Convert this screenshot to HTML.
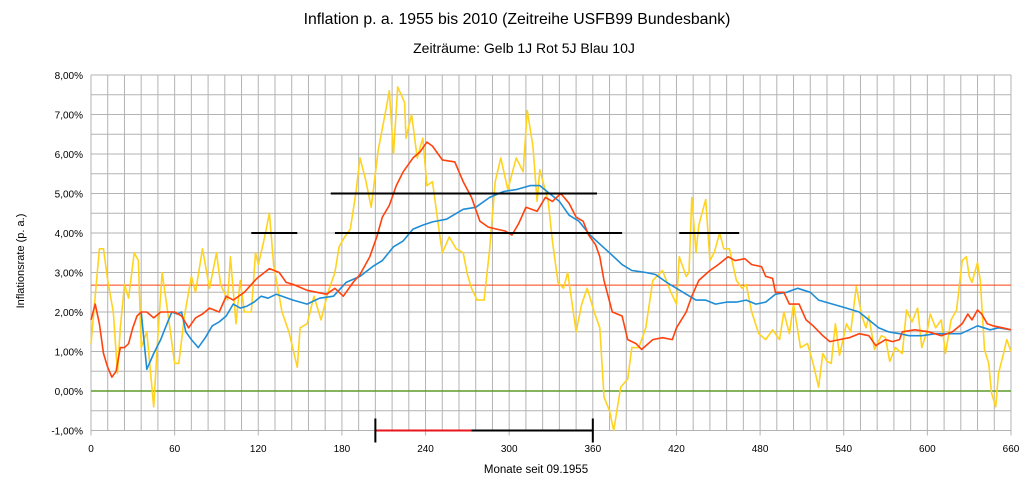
<!DOCTYPE html>
<html><head><meta charset="utf-8">
<style>
html,body{margin:0;padding:0;background:#fff;}
svg{display:block;font-family:"Liberation Sans",sans-serif;}
</style></head>
<body>
<svg id="chart" width="1035" height="484" viewBox="0 0 1035 484" xmlns="http://www.w3.org/2000/svg">
<text x="517" y="24" font-size="15.8" text-anchor="middle" fill="#000">Inflation p. a.  1955 bis 2010 (Zeitreihe USFB99 Bundesbank)</text>
<text x="524" y="53" font-size="14" text-anchor="middle" fill="#000">Zeiträume: Gelb 1J Rot 5J Blau 10J</text>
<text x="536" y="473" font-size="11.5" text-anchor="middle" fill="#000">Monate seit 09.1955</text>
<text x="0" y="0" font-size="11" text-anchor="middle" fill="#000" transform="translate(24,261) rotate(-90)">Inflationsrate (p. a.)</text>
<g id="grid"></g>
<g id="series"></g>
<g id="marks"></g>
<g id="ticks"></g>
</svg>
<script>
const xTicks = [0,60,120,180,240,300,360,420,480,540,600,660];
const yTicks = [-1,0,1,2,3,4,5,6,7,8];
const yTickLabels = ["-1,00%","0,00%","1,00%","2,00%","3,00%","4,00%","5,00%","6,00%","7,00%","8,00%"];
const refLevel = 2.68;

const yellowMonths = [0,3,6,9,12,16,19,21,24,27,31,34,36,40,45,48,51,55,60,63,67,72,75,80,85,90,93,98,100,104,107,110,115,118,120,124,128,131,137,142,148,150,155,160,165,170,175,178,182,186,190,193,197,201,206,212,214,217,220,225,226,230,234,238,241,245,249,252,257,262,267,270,273,277,282,286,290,294,299,305,310,313,317,320,322,328,331,335,339,342,348,352,356,361,365,368,372,375,380,385,388,393,398,403,410,416,420,422,427,429,431,434,436,441,444,447,451,454,458,463,467,470,474,479,484,489,494,497,501,504,509,514,518,522,525,528,531,534,537,542,545,549,553,556,558,562,567,570,573,577,582,585,589,593,596,600,602,606,610,613,617,621,625,628,630,632,636,638,641,644,646,649,651,654,657,660];
const yellowVals = [1.2,2.4,3.6,3.6,2.8,2.0,0.45,1.6,2.7,2.35,3.5,3.3,1.1,1.5,-0.4,1.4,3.0,2.0,0.7,0.7,1.9,2.9,2.5,3.6,2.6,3.5,2.7,2.3,3.4,1.7,2.8,2.0,2.0,3.5,3.2,3.8,4.5,3.2,2.0,1.5,0.6,1.6,1.7,2.4,1.8,2.5,3.0,3.65,3.9,4.1,5.0,5.9,5.35,4.65,6.1,7.2,7.6,6.0,7.7,7.3,6.4,7.0,5.9,6.4,5.2,5.3,4.25,3.5,3.9,3.6,3.5,2.95,2.6,2.3,2.3,3.6,5.3,5.9,5.1,5.9,5.55,7.1,6.2,4.8,5.6,4.8,3.8,2.75,2.6,3.0,1.5,2.2,2.6,2.0,1.6,-0.15,-0.5,-1.0,0.1,0.3,1.1,1.1,1.6,2.8,3.05,2.5,2.2,3.4,2.9,3.0,4.9,3.5,4.2,4.85,3.3,3.5,4.0,3.6,3.6,2.8,2.6,2.7,2.0,1.45,1.3,1.55,1.3,2.0,1.45,2.2,1.1,1.2,0.7,0.1,0.95,0.75,0.7,1.7,0.9,1.7,1.5,2.65,1.9,1.6,1.9,1.05,1.4,1.35,0.75,1.1,0.95,2.05,1.75,2.1,1.1,1.55,1.95,1.6,1.8,0.95,1.8,2.05,3.3,3.4,2.9,2.75,3.25,2.8,1.05,0.7,-0.05,-0.4,0.45,0.85,1.3,1.0];

const redMonths = [0,3,6,9,12,15,18,21,24,27,30,33,36,40,45,50,55,60,65,70,75,80,85,92,97,102,110,119,128,135,140,145,155,162,169,175,181,188,193,200,205,209,214,219,224,231,236,241,245,252,261,267,273,279,285,291,297,302,307,312,320,326,331,337,343,348,353,357,362,365,368,374,381,385,391,395,403,410,417,420,427,431,436,444,450,457,462,469,474,481,484,489,491,497,501,508,513,518,525,530,537,544,551,558,563,570,575,580,582,591,601,610,618,625,629,632,636,639,643,647,654,660];
const redVals = [1.8,2.2,1.7,0.95,0.6,0.35,0.5,1.1,1.1,1.2,1.6,1.9,2.0,2.0,1.85,2.0,2.0,2.0,1.9,1.6,1.85,1.95,2.1,2.0,2.4,2.3,2.5,2.85,3.1,3.0,2.75,2.7,2.55,2.5,2.45,2.6,2.4,2.75,2.95,3.4,3.9,4.4,4.7,5.2,5.55,5.9,6.05,6.3,6.2,5.85,5.8,5.3,4.9,4.3,4.15,4.1,4.05,3.95,4.25,4.65,4.55,4.9,4.8,5.0,4.75,4.4,4.3,3.95,3.7,3.4,2.8,2.0,1.9,1.3,1.2,1.05,1.3,1.35,1.3,1.6,2.0,2.4,2.8,3.05,3.2,3.4,3.3,3.35,3.2,3.15,2.9,2.85,2.5,2.5,2.2,2.2,1.8,1.65,1.4,1.25,1.3,1.35,1.45,1.4,1.15,1.3,1.25,1.3,1.5,1.55,1.5,1.4,1.5,1.7,1.95,1.8,2.05,1.95,1.7,1.65,1.6,1.55];

const blueMonths = [36,40,45,50,55,58,62,65,68,72,77,82,87,92,97,102,107,112,117,122,127,133,145,155,164,174,183,193,202,209,217,224,231,238,245,255,267,276,286,296,305,315,322,329,336,343,350,358,365,372,381,388,398,405,413,420,427,434,441,448,456,463,470,477,484,491,499,507,516,522,532,542,551,558,565,572,580,587,596,606,616,624,630,636,645,651,660];
const blueVals = [2.0,0.55,0.95,1.3,1.75,2.0,1.95,2.0,1.5,1.3,1.1,1.35,1.65,1.75,1.9,2.2,2.1,2.15,2.25,2.4,2.35,2.45,2.3,2.2,2.35,2.4,2.75,2.9,3.15,3.3,3.65,3.8,4.1,4.2,4.28,4.35,4.6,4.65,4.9,5.05,5.1,5.2,5.2,5.0,4.8,4.45,4.3,3.95,3.72,3.5,3.2,3.05,3.0,2.95,2.75,2.6,2.45,2.3,2.3,2.2,2.25,2.25,2.3,2.2,2.25,2.45,2.5,2.6,2.5,2.3,2.2,2.1,2.0,1.8,1.6,1.5,1.45,1.4,1.4,1.45,1.45,1.45,1.55,1.65,1.55,1.6,1.55];

const segLevels = [4,5,4,4];
const segStarts = [115,172,175,422];
const segEnds = [148,363,381,465];
const spanStart = 204, spanRedEnd = 273, spanEnd = 360;

const X0 = 91, X1 = 1011, YTOP = 75, YBOT = 430.5;
const xMin = 0, xMax = 660, yMin = -1, yMax = 8;
function xs(m){ return X0 + (m - xMin) / (xMax - xMin) * (X1 - X0); }
function ys(v){ return YBOT - (v - yMin) / (yMax - yMin) * (YBOT - YTOP); }

const NS = "http://www.w3.org/2000/svg";
function mk(tag, attrs, parent){
  const e = document.createElementNS(NS, tag);
  for (const k in attrs) e.setAttribute(k, attrs[k]);
  parent.appendChild(e);
  return e;
}
const grid = document.getElementById('grid');
const series = document.getElementById('series');
const marks = document.getElementById('marks');
const ticks = document.getElementById('ticks');

for (let m = 0; m <= 660; m += 12) {
  const l = mk('line', {x1: xs(m), x2: xs(m), y1: YTOP, y2: YBOT, stroke: '#b3b3b3', 'stroke-width': 1}, grid);
  
  
}
for (let v = -1; v <= 8.001; v += 0.5) {
  const l = mk('line', {x1: X0, x2: X1, y1: ys(v), y2: ys(v), stroke: '#b3b3b3', 'stroke-width': 1}, grid);
  
  
}
xTicks.forEach(m => {
  const l = mk('line', {x1: xs(m), x2: xs(m), y1: YBOT, y2: YBOT + 5, stroke: '#b3b3b3'}, grid);
  
  
  const t = mk('text', {x: xs(m), y: 452, 'font-size': 10, 'text-anchor': 'middle', fill: '#000'}, ticks);
  t.textContent = String(m);
  
  
});
yTicks.forEach((v, i) => {
  const t = mk('text', {x: 83, y: ys(v) + 4, 'font-size': 10, 'text-anchor': 'end', fill: '#000'}, ticks);
  t.textContent = yTickLabels[i];
  
  
});

const zeroLine = mk('line', {x1: X0, x2: X1, y1: ys(0), y2: ys(0), stroke: '#5f9a2a', 'stroke-width': 1.5}, series);


const refLine = mk('line', {x1: X0, x2: X1, y1: ys(refLevel), y2: ys(refLevel), stroke: '#ff420e', 'stroke-width': 1}, series);



function drawSeries(months, vals, color, name){
  const pts = months.map((m, i) => xs(m).toFixed(1) + ',' + ys(vals[i]).toFixed(1)).join(' ');
  const p = mk('polyline', {points: pts, fill: 'none', stroke: color, 'stroke-width': 1.6, 'stroke-linejoin': 'round'}, series);
  
  
}
drawSeries(yellowMonths, yellowVals, '#ffd320', 'series-1-year-yellow');
drawSeries(blueMonths, blueVals, '#1f8dd6', 'series-10-year-blue');
drawSeries(redMonths, redVals, '#ff420e', 'series-5-year-red');

segLevels.forEach((lv, i) => {
  const s = mk('line', {x1: xs(segStarts[i]), x2: xs(segEnds[i]), y1: ys(lv), y2: ys(lv), stroke: '#000', 'stroke-width': 2}, marks);
  
  
});
const sp = mk('line', {x1: xs(spanStart), x2: xs(spanEnd), y1: ys(-1), y2: ys(-1), stroke: '#000', 'stroke-width': 2}, marks);


const spr = mk('line', {x1: xs(spanStart), x2: xs(spanRedEnd), y1: ys(-1), y2: ys(-1), stroke: '#e8141e', 'stroke-width': 2}, marks);


[spanStart, spanEnd].forEach(m => {
  const t = mk('line', {x1: xs(m), x2: xs(m), y1: ys(-1) - 12, y2: ys(-1) + 12, stroke: '#000', 'stroke-width': 2}, marks);
  
  
});
</script>
</body></html>
